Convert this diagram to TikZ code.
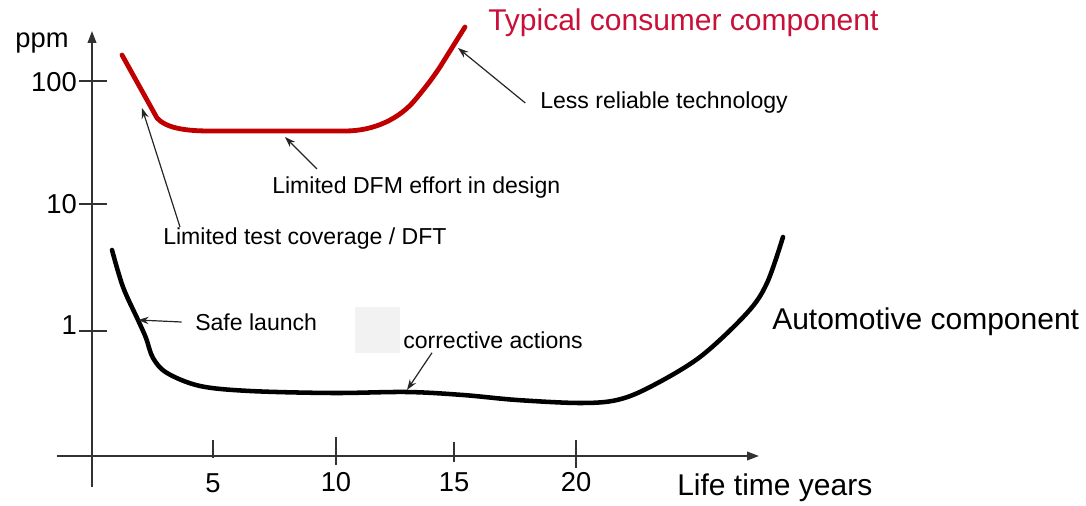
\documentclass[tikz,border=0pt]{standalone}
\usepackage{fontspec}
\setmainfont{Liberation Sans}
\usetikzlibrary{arrows.meta}
\definecolor{consred}{RGB}{192,0,0}
\definecolor{titlered}{RGB}{200,16,56}
\definecolor{boxgray}{RGB}{242,242,242}
\definecolor{axisgray}{RGB}{50,50,50}
\tikzset{
  axisline/.style={draw=axisgray, line width=1.3pt},
  tickline/.style={draw=axisgray, line width=1pt},
  curvered/.style={draw=consred, line width=3.6pt, line cap=round, line join=round},
  curveblack/.style={draw=black, line width=3.4pt, line cap=round, line join=round},
  note/.style={inner sep=0pt, font=\fontsize{17.3}{20}\selectfont},
  big/.style={inner sep=0pt, font=\fontsize{22.5}{26}\selectfont},
  num/.style={inner sep=0pt, font=\fontsize{20.5}{24}\selectfont},
  pointer/.style={draw=black!85, line width=0.9pt, -{Stealth[length=8pt,width=5.5pt]}},
}
\begin{document}
\begin{tikzpicture}[x=0.75pt,y=-0.75pt]
\useasboundingbox (0,0) rectangle (1086,506);
% gray box
\fill[boxgray] (355,307) rectangle (400,353);
% axes
\coordinate (yb) at (92,487);
\coordinate (yt) at (92,31);
\coordinate (xl) at (57,456);
\coordinate (xr) at (759,456);
\draw[axisline, -{Triangle[length=9pt,width=6.5pt]}] (yb) -- (yt);
\draw[axisline, -{Triangle[length=9pt,width=6.5pt]}] (xl) -- (xr);
% y ticks
\draw[tickline] (79,81) -- (107,81);
\draw[tickline] (79,204) -- (107,204);
\draw[tickline] (79,331) -- (107,331);
% x ticks
\draw[tickline] (213,440) -- (213,458);
\draw[tickline] (336,437) -- (336,465);
\draw[tickline] (454,442) -- (454,462);
\draw[tickline] (576,440) -- (576,468);
% axis labels
\node[num] (ppm) at (42,43) {ppm};
\node[num, anchor=east] (l100) at (77,82) {100};
\node[num, anchor=east] (l10) at (77,204) {10};
\node[num, anchor=east] (l1) at (77,325) {1};
\node[num] (x5) at (213,483) {5};
\node[num] (x10) at (336,482) {10};
\node[num] (x15) at (454,482) {15};
\node[num] (x20) at (576,482) {20};
\node[big, anchor=west] (lty) at (677,488) {Life time years};
% red curve
\draw[curvered] (122,55) -- (157,118) .. controls (166,128) and (185,131) .. (210,131) -- (345,131) .. controls (375,131) and (400,118) .. (415,100) .. controls (425,88) and (432,79) .. (440,67) -- (465,27);
% black curve
\draw[curveblack] plot[smooth, tension=0.55] coordinates {(112,250) (123,287) (138,320) (146,338) (153,358) (167,373) (200,386) (250,391) (333,393) (407,392) (463,395) (517,400) (580,403) (617,400) (650,387) (700,357) (747,313) (767,283) (783,237)};
% titles
\node[big, anchor=west, text=titlered] (tcc) at (488,23) {Typical consumer component};
\node[big, anchor=west] (ac) at (772,322) {Automotive component};
% notes
\node[note, anchor=west] (lt) at (163,239) {Limited test coverage / DFT};
\node[note, anchor=west] (dfm) at (272,188) {Limited DFM effort in design};
\node[note, anchor=west] (lrt) at (540,103) {Less reliable technology};
\node[note, anchor=west] (sl) at (195,322) {Safe launch};
\node[note, anchor=west] (ca) at (403,340) {corrective actions};
% pointer tips
\coordinate (tlt) at (142,108);
\coordinate (tdfm) at (285,137);
\coordinate (tlrt) at (458,48);
\coordinate (tsl) at (138,320);
\coordinate (tca) at (407,390);
% pointers
\draw[pointer] ([shift={(17,-1)}]lt.north west) -- (tlt);
\draw[pointer] ([shift={(45,-8)}]dfm.north west) -- (tdfm);
\draw[pointer] ([xshift=-11pt]lrt.west) -- (tlrt);
\draw[pointer] ([xshift=-10pt]sl.west) -- (tsl);
\draw[pointer] ([shift={(29,4)}]ca.south west) -- (tca);
\end{tikzpicture}
\end{document}
